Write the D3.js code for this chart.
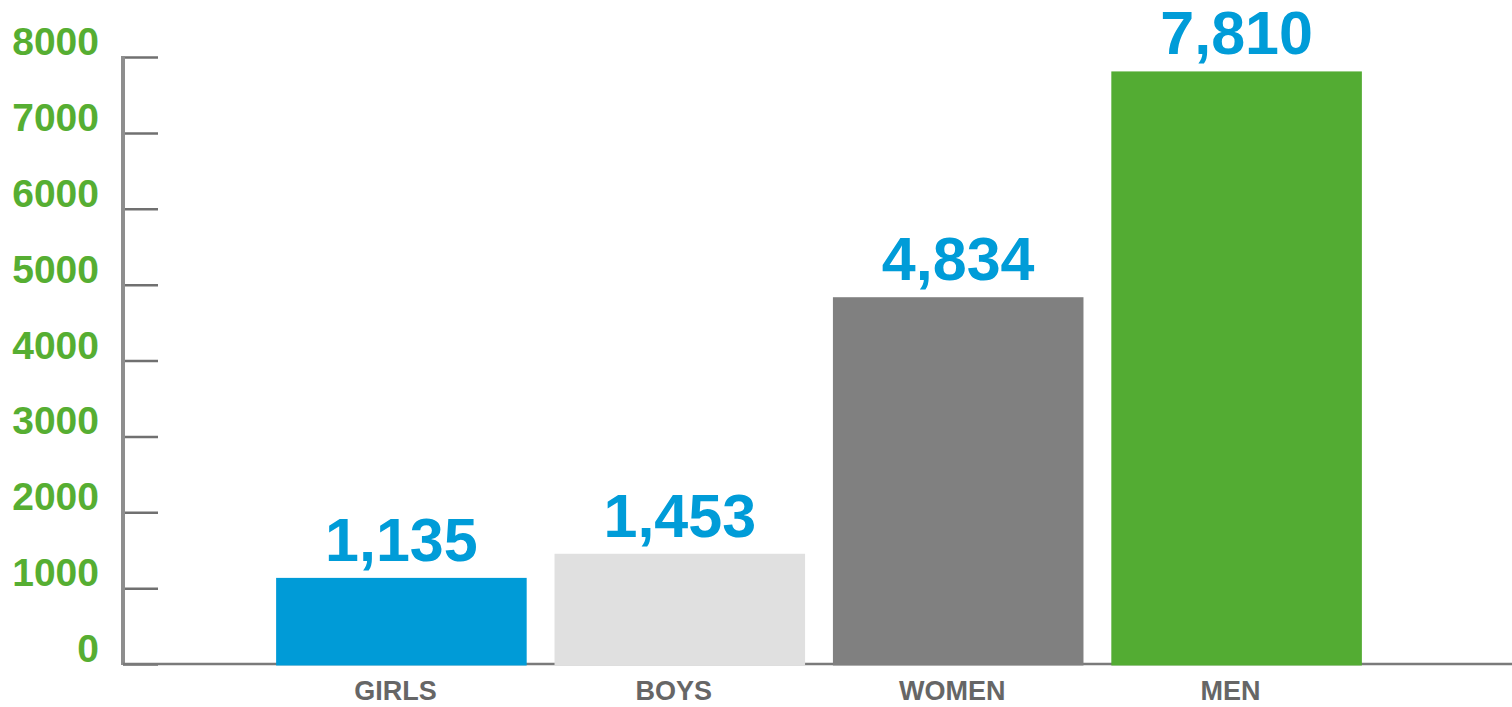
<!DOCTYPE html>
<html>
<head>
<meta charset="utf-8">
<script src="https://cdn.jsdelivr.net/npm/d3@7"></script>
<style>
  body { margin: 0; background: #fff; }
  svg { display: block; }
</style>
</head>
<body>
<svg id="chart"></svg>
<script>
const categories = ["GIRLS", "BOYS", "WOMEN", "MEN"];
const values = [1135, 1453, 4834, 7810];
const barColors = ["#009bd7", "#e0e0e0", "#808080", "#53ac33"];
const yTicks = [0, 1000, 2000, 3000, 4000, 5000, 6000, 7000, 8000];

const W = 1512, H = 707;
const x0 = 123, yTop = 57, yBase = 664;

const svg = d3.select("#chart")
    .attr("width", W)
    .attr("height", H);

const xScale = d3.scaleBand()
    .domain(categories)
    .range([x0, x0 + 1392])
    .paddingInner(0.1)
    .paddingOuter(0.55);

const yScale = d3.scaleLinear()
    .domain([0, 8000])
    .range([yBase, yTop]);

// axis with ticks pointing inward
const yAxis = d3.axisRight(yScale)
    .tickValues(yTicks)
    .tickSize(35)
    .tickFormat("");

const gy = svg.append("g")
    .attr("transform", "translate(" + x0 + ",0)")
    .call(yAxis);
gy.select(".domain").remove();
gy.selectAll(".tick line")
    .attr("stroke", "#707070")
    .attr("stroke-width", 2.5);

svg.append("line")
    .attr("x1", x0).attr("x2", x0)
    .attr("y1", yScale(8000) - 1).attr("y2", yBase + 1)
    .attr("stroke", "#8e8e8e")
    .attr("stroke-width", 4);

svg.append("line")
    .attr("x1", x0).attr("x2", W)
    .attr("y1", yBase).attr("y2", yBase)
    .attr("stroke", "#7a7a7a")
    .attr("stroke-width", 2.5);

// y labels
svg.selectAll(".ylab")
    .data(yTicks)
    .enter().append("text")
    .attr("class", "ylab")
    .attr("x", 99)
    .attr("y", d => yScale(d) - 2)
    .attr("text-anchor", "end")
    .attr("fill", "#56ae32")
    .attr("font-family", "Liberation Sans, Arial, sans-serif")
    .attr("font-weight", "bold")
    .attr("font-size", "39px")
    .text(d => d);

// bars
svg.selectAll(".bar")
    .data(values)
    .enter().append("rect")
    .attr("class", "bar")
    .attr("x", (d, i) => xScale(categories[i]))
    .attr("width", xScale.bandwidth())
    .attr("y", d => yScale(d))
    .attr("height", d => yBase + 1.5 - yScale(d))
    .attr("fill", (d, i) => barColors[i]);

// value labels
svg.selectAll(".val")
    .data(values)
    .enter().append("text")
    .attr("class", "val")
    .attr("x", (d, i) => xScale(categories[i]) + xScale.bandwidth() / 2)
    .attr("y", d => yScale(d) - 17)
    .attr("text-anchor", "middle")
    .attr("fill", "#009cd8")
    .attr("font-family", "Liberation Sans, Arial, sans-serif")
    .attr("font-weight", "bold")
    .attr("font-size", "61px")
    .text(d => d3.format(",")(d));

// category labels
svg.selectAll(".cat")
    .data(categories)
    .enter().append("text")
    .attr("class", "cat")
    .attr("x", d => xScale(d) + xScale.bandwidth() / 2 - 6)
    .attr("y", 700)
    .attr("text-anchor", "middle")
    .attr("fill", "#666666")
    .attr("font-family", "Liberation Sans, Arial, sans-serif")
    .attr("font-weight", "bold")
    .attr("font-size", "27px")
    .text(d => d);
</script>
</body>
</html>
